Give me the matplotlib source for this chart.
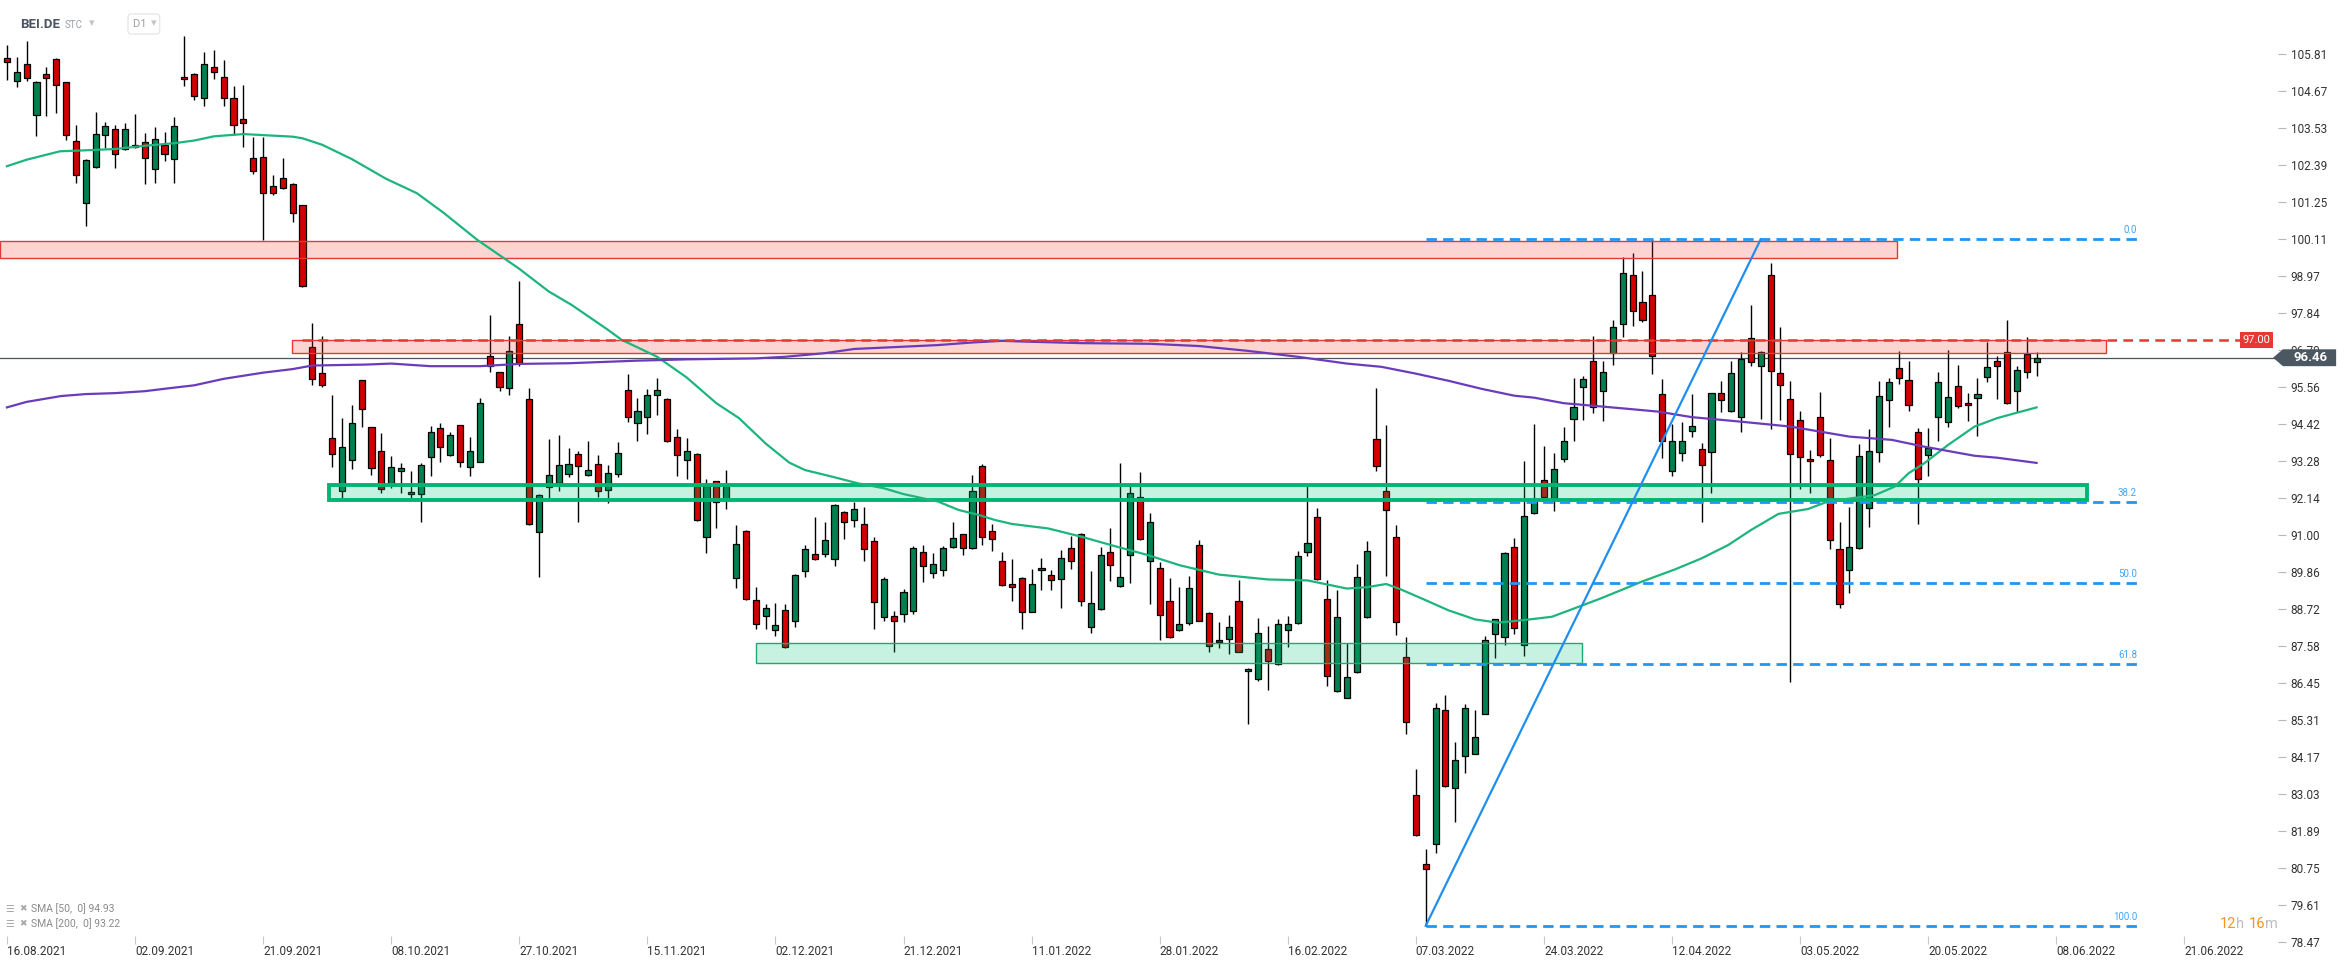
import numpy as np
import matplotlib
matplotlib.use("Agg")
import matplotlib.pyplot as plt
from matplotlib.patches import Rectangle, Polygon

plt.rcParams['font.family'] = ['Roboto', 'DejaVu Sans']
plt.rcParams['lines.scale_dashes'] = False

# daily candles BEI.DE, 16.08.2021 -> 06.06.2022 (bar index 0..206)
opens = [105.69, 104.98, 105.51, 103.93, 105.20, 105.66, 104.94, 103.15, 101.23, 102.34,
         103.32, 103.50, 102.89, 103.01, 103.10, 102.27, 103.02, 102.58, 105.10, 105.20,
         104.47, 105.42, 105.11, 104.47, 103.81, 102.62, 102.64, 101.74, 102.01, 101.81,
         101.16, 96.79, 95.99, 93.99, 92.35, 93.31, 95.76, 94.32, 93.58, 92.57,
         92.97, 92.26, 92.26, 93.39, 94.29, 93.45, 94.38, 93.09, 93.26, 96.50,
         96.01, 95.54, 97.50, 95.18, 91.08, 92.47, 92.59, 92.87, 93.49, 92.84,
         93.18, 92.39, 92.87, 95.46, 94.44, 94.64, 95.30, 95.18, 94.01, 93.30,
         93.49, 90.95, 92.65, 92.08, 89.67, 91.12, 88.99, 88.49, 88.07, 88.68,
         88.34, 89.88, 90.41, 90.41, 90.25, 91.70, 91.45, 91.33, 90.81, 88.46,
         88.50, 88.56, 88.65, 90.47, 89.82, 89.91, 90.62, 91.02, 90.59, 93.12,
         91.12, 90.19, 89.48, 89.67, 88.64, 89.97, 89.78, 89.64, 90.59, 91.03,
         88.16, 88.72, 90.49, 89.43, 90.37, 92.16, 90.20, 89.99, 88.98, 88.07,
         88.30, 90.68, 88.61, 87.76, 87.81, 88.98, 86.81, 86.56, 87.48, 87.03,
         88.07, 88.29, 90.49, 91.54, 89.04, 86.18, 85.99, 86.77, 88.47, 93.97,
         92.37, 90.93, 87.23, 82.98, 80.86, 81.47, 85.60, 83.21, 84.20, 84.26,
         85.50, 87.95, 87.86, 90.63, 87.62, 91.67, 92.68, 92.13, 93.33, 94.56,
         95.55, 96.35, 95.42, 96.60, 97.49, 99.01, 98.17, 98.38, 95.33, 92.97,
         93.52, 94.20, 93.66, 93.55, 95.36, 94.82, 94.63, 97.06, 96.21, 99.01,
         95.98, 95.18, 94.53, 93.34, 94.63, 93.31, 90.56, 89.92, 90.59, 91.82,
         93.55, 95.15, 96.14, 95.77, 94.16, 93.46, 94.63, 94.47, 95.59, 95.07,
         95.21, 95.86, 96.35, 96.65, 95.45, 96.57, 96.32]
highs = [106.08, 105.73, 106.22, 105.00, 105.42, 105.70, 104.96, 103.62, 102.58, 104.03,
         103.71, 103.62, 103.68, 103.98, 103.37, 103.57, 103.40, 103.88, 106.37, 105.24,
         105.88, 105.95, 105.64, 104.83, 104.87, 103.26, 103.26, 102.09, 102.62, 101.85,
         101.16, 97.54, 97.13, 95.32, 94.61, 94.99, 95.76, 94.32, 94.14, 93.42,
         93.23, 92.98, 93.23, 94.35, 94.44, 94.16, 94.38, 94.02, 95.23, 97.79,
         96.01, 97.13, 98.83, 95.53, 92.25, 93.95, 94.08, 93.67, 93.59, 93.90,
         93.47, 93.16, 93.86, 95.95, 95.22, 95.50, 95.84, 95.22, 94.26, 93.98,
         93.51, 92.72, 92.67, 92.99, 91.30, 91.14, 89.39, 88.87, 88.91, 88.87,
         89.80, 90.69, 91.56, 91.40, 91.95, 91.73, 92.02, 91.85, 90.93, 89.70,
         88.65, 89.34, 90.65, 90.68, 90.44, 90.65, 91.39, 91.04, 92.85, 93.18,
         91.33, 90.47, 90.25, 89.70, 89.96, 90.28, 89.93, 90.55, 90.97, 91.05,
         89.88, 90.62, 91.23, 93.21, 92.50, 92.95, 91.68, 90.17, 89.67, 89.39,
         89.74, 90.86, 88.63, 88.31, 88.54, 89.60, 86.91, 88.43, 88.19, 88.40,
         88.51, 90.52, 92.57, 91.82, 89.60, 89.30, 87.66, 90.10, 90.80, 95.54,
         94.38, 91.30, 87.86, 83.80, 81.33, 85.82, 86.07, 84.61, 85.78, 85.60,
         87.90, 88.42, 90.49, 90.92, 93.28, 94.42, 93.74, 93.52, 94.32, 95.83,
         95.90, 97.13, 96.35, 97.62, 99.55, 99.68, 99.13, 100.11, 95.79, 94.42,
         94.48, 95.34, 93.82, 95.38, 95.74, 96.35, 96.63, 98.09, 96.67, 99.39,
         97.42, 95.75, 94.82, 93.62, 95.40, 93.98, 91.39, 91.85, 93.80, 94.26,
         95.75, 95.83, 96.67, 96.36, 94.29, 94.29, 96.01, 96.70, 96.24, 95.36,
         95.83, 96.96, 96.50, 97.62, 96.21, 97.09, 96.63]
lows = [105.03, 104.79, 105.00, 103.30, 103.90, 103.99, 103.18, 101.83, 100.51, 102.30,
        102.91, 102.30, 102.85, 102.91, 101.80, 101.83, 102.51, 101.83, 104.83, 104.39,
        104.21, 105.05, 104.23, 103.33, 102.94, 102.12, 100.10, 101.48, 101.67, 100.63,
        98.63, 95.62, 95.57, 93.09, 92.13, 93.03, 94.33, 92.86, 92.29, 92.46,
        92.29, 92.13, 91.41, 92.81, 93.25, 93.42, 93.09, 92.81, 93.26, 96.03,
        95.45, 95.30, 96.19, 91.30, 89.70, 92.12, 92.37, 92.80, 91.41, 92.82,
        92.18, 91.98, 92.80, 94.49, 93.91, 94.12, 94.71, 93.86, 92.83, 92.72,
        91.43, 90.44, 91.20, 91.79, 89.36, 89.00, 88.11, 88.09, 87.90, 87.52,
        88.18, 89.70, 90.23, 90.33, 90.03, 90.89, 91.26, 90.21, 88.09, 88.36,
        87.41, 88.33, 88.56, 89.54, 89.67, 89.73, 90.60, 90.38, 90.57, 90.68,
        90.50, 89.43, 88.96, 88.09, 88.62, 89.32, 89.30, 88.75, 89.96, 88.80,
        87.97, 88.70, 89.57, 89.41, 89.53, 90.86, 88.87, 87.76, 87.84, 88.05,
        88.23, 88.34, 87.38, 87.51, 87.34, 87.38, 85.17, 86.49, 86.21, 87.01,
        87.55, 88.27, 90.35, 89.62, 86.35, 86.16, 85.97, 86.75, 88.45, 92.97,
        89.74, 87.93, 84.86, 81.73, 78.96, 81.19, 83.25, 82.15, 83.66, 84.24,
        85.48, 87.20, 87.62, 87.95, 87.27, 91.65, 92.16, 91.75, 93.26, 93.88,
        94.54, 94.77, 94.51, 96.24, 97.09, 97.44, 97.55, 95.95, 93.36, 92.82,
        93.29, 94.03, 91.39, 92.30, 94.80, 94.80, 94.16, 96.19, 94.57, 94.27,
        94.54, 86.48, 92.42, 92.30, 93.39, 90.56, 88.74, 89.20, 90.56, 91.24,
        93.24, 94.32, 95.64, 94.83, 91.33, 92.83, 93.91, 94.32, 94.90, 94.52,
        94.06, 95.70, 95.18, 95.04, 94.80, 95.83, 95.91]
closes = [105.57, 105.25, 105.08, 104.94, 105.08, 104.86, 103.32, 102.08, 102.55, 103.35,
          103.59, 102.73, 103.50, 102.96, 102.61, 103.20, 102.73, 103.59, 105.05, 104.53,
          105.51, 105.26, 104.47, 103.62, 103.68, 102.20, 101.53, 101.52, 101.69, 100.92,
          98.68, 95.81, 95.61, 93.50, 93.70, 94.44, 94.88, 93.06, 92.42, 93.08,
          93.06, 92.31, 93.17, 94.16, 93.72, 94.08, 93.26, 93.58, 95.06, 96.22,
          95.56, 96.66, 96.29, 91.33, 92.22, 92.84, 93.15, 93.18, 93.14, 92.99,
          92.36, 92.90, 93.52, 94.64, 94.81, 95.30, 95.46, 93.88, 93.46, 93.58,
          91.45, 92.51, 92.01, 92.51, 90.71, 89.03, 88.25, 88.74, 88.22, 87.54,
          89.77, 90.56, 90.25, 90.84, 91.92, 91.39, 91.79, 90.56, 88.95, 89.64,
          88.34, 89.24, 90.59, 90.04, 90.10, 90.59, 90.90, 90.59, 92.35, 90.93,
          90.87, 89.45, 89.39, 88.62, 89.50, 89.91, 89.62, 90.28, 90.20, 88.98,
          88.90, 90.37, 90.07, 89.70, 92.29, 90.88, 91.41, 88.54, 87.86, 88.26,
          89.36, 88.36, 87.58, 87.69, 88.16, 87.40, 86.84, 87.97, 87.12, 88.26,
          88.26, 90.35, 90.76, 89.64, 86.66, 88.46, 86.62, 89.70, 90.52, 93.14,
          91.77, 88.31, 85.25, 81.75, 80.71, 85.68, 83.27, 84.06, 85.68, 84.79,
          87.76, 88.40, 90.45, 88.12, 91.57, 92.03, 92.18, 93.02, 93.88, 94.95,
          95.80, 94.93, 96.01, 97.40, 99.06, 97.90, 97.62, 96.51, 93.90, 93.90,
          93.91, 94.37, 93.16, 95.36, 95.16, 95.98, 96.42, 96.32, 96.65, 96.06,
          95.62, 93.48, 93.39, 93.28, 93.46, 90.83, 88.87, 90.62, 93.43, 93.59,
          95.28, 95.70, 95.83, 94.99, 92.72, 93.67, 95.70, 95.24, 94.97, 94.99,
          95.34, 96.17, 96.19, 95.06, 96.08, 96.01, 96.46]

date_ticks = [0, 13, 26, 39, 52, 65, 78, 91, 104, 117, 130, 143, 156, 169, 182, 195, 208, 221]
date_labels = ["16.08.2021", "02.09.2021", "21.09.2021", "08.10.2021", "27.10.2021",
               "15.11.2021", "02.12.2021", "21.12.2021", "11.01.2022", "28.01.2022",
               "16.02.2022", "07.03.2022", "24.03.2022", "12.04.2022", "03.05.2022",
               "20.05.2022", "08.06.2022", "21.06.2022"]
price_ticks = [105.81, 104.67, 103.53, 102.39, 101.25, 100.11, 98.97, 97.84, 96.70, 95.56,
               94.42, 93.28, 92.14, 91.00, 89.86, 88.72, 87.58, 86.45, 85.31, 84.17,
               83.03, 81.89, 80.75, 79.61, 78.47]

# moving averages (bar index, value)
sma50_x = [0, 2, 5.4, 8, 11, 14, 17, 19, 21, 24, 29, 30, 32, 35, 38.5, 41.6, 44.3, 47.7, 52,
           55, 57.3, 61, 62.4, 66, 69, 72, 74.3, 77, 79.4, 81, 83.7, 86.4, 89, 91, 94.5,
           96.6, 98.6, 100.3, 102, 105.7, 109, 112.4, 115.8, 119, 123, 128, 132, 136, 138,
           140, 141.5, 144, 146.3, 149, 151.3, 154, 156.8, 159.8, 161.8, 163.9, 165.9,
           169.3, 172, 174.7, 177, 179.8, 182.8, 184.8, 189.6, 191.6, 193, 194.6, 197,
           199.7, 202, 203.8, 206]
sma50_y = [102.36, 102.56, 102.82, 102.85, 102.89, 102.99, 103.07, 103.15, 103.28, 103.35,
           103.27, 103.22, 103.02, 102.58, 101.97, 101.53, 100.93, 100.10, 99.20,
           98.50, 98.09, 97.32, 97.01, 96.49, 95.85, 95.06, 94.60, 93.82, 93.23, 93.00,
           92.80, 92.59, 92.44, 92.26, 92.03, 91.77, 91.62, 91.46, 91.34, 91.20, 90.95,
           90.66, 90.38, 90.07, 89.78, 89.63, 89.60, 89.35, 89.39, 89.49, 89.32, 88.99,
           88.68, 88.40, 88.30, 88.38, 88.48, 88.82, 89.05, 89.31, 89.56, 89.94, 90.28,
           90.69, 91.15, 91.65, 91.80, 92.03, 92.23, 92.49, 92.90, 93.21, 93.77, 94.34,
           94.60, 94.75, 94.93]
sma200_x = [0, 2, 5.5, 8, 11, 14, 17, 19, 22, 26, 29, 31, 36.5, 39, 43, 48, 52, 57, 64, 69,
            76, 79, 83, 86, 91, 94.5, 98, 101, 103, 109, 116, 121, 126, 131, 136, 139.5,
            143, 146.3, 149.7, 153, 155, 158, 164, 167.6, 171, 176, 181, 184.5, 187,
            191.3, 194.6, 199.7, 202, 206]
sma200_y = [94.93, 95.10, 95.28, 95.34, 95.37, 95.43, 95.54, 95.61, 95.81, 96.00, 96.11,
            96.22, 96.25, 96.28, 96.20, 96.20, 96.27, 96.29, 96.37, 96.41, 96.44, 96.49,
            96.60, 96.73, 96.80, 96.85, 96.93, 96.98, 96.96, 96.91, 96.89, 96.82, 96.67,
            96.49, 96.28, 96.18, 95.97, 95.75, 95.50, 95.29, 95.23, 95.06, 94.90, 94.80,
            94.63, 94.49, 94.34, 94.16, 94.03, 93.93, 93.72, 93.44, 93.38, 93.22]

# drawn zones: (start bar, end bar, low, high)
red_zones = [(-0.7, 191.8, 99.52, 100.06), (28.9, 213.0, 96.60, 97.00)]
green_zone_main = (32.7, 211.1, 92.08, 92.54)
green_zone_low = (76.0, 159.9, 87.05, 87.66)

fib_start, fib_end = 144, 216.3
fib_high, fib_low = 100.11, 78.96
fib_levels = [0.0, 38.2, 50.0, 61.8, 100.0]
trend_x = [144, 178]
trend_y = [78.96, 100.11]
alert_start, alert_end = 29.9, 226.9
last_price = 96.46
alert_price = 97.00

W, H = 2346, 968
def px(x, y):
    return x / W, 1 - y / H

fig = plt.figure(figsize=(W / 100, H / 100), dpi=100)
fig.patch.set_facecolor('white')
ax = fig.add_axes([0, 24 / H, 2278 / W, 944 / H])
ax.set_xlim(-0.70, 230.5)
ax.set_ylim(78.40, 107.48)
for s in ax.spines.values():
    s.set_visible(False)

o = np.array(opens); h = np.array(highs); l = np.array(lows); c = np.array(closes)
idx = np.arange(len(o))
up = c >= o
colors = np.where(up, '#03804f', '#d40000')

ax.axhline(last_price, color='#4a5560', lw=0.9, zorder=1)
ax.vlines(idx, l, h, color='black', lw=1.0, zorder=2)
ax.bar(idx, np.maximum(np.abs(c - o), 0.06), bottom=np.minimum(o, c), width=0.62,
       color=colors, edgecolor='black', linewidth=0.9, zorder=3)

for x0, x1, lo, hi in red_zones:
    ax.add_patch(Rectangle((x0, lo), x1 - x0, hi - lo, facecolor=(0.96, 0.26, 0.21, 0.22),
                           edgecolor='#e53935', lw=1.0, zorder=4))
x0, x1, lo, hi = green_zone_main
ax.add_patch(Rectangle((x0, lo), x1 - x0, hi - lo, facecolor=(0.0, 0.77, 0.48, 0.22),
                       edgecolor='#00b574', lw=2.8, zorder=4))
x0, x1, lo, hi = green_zone_low
ax.add_patch(Rectangle((x0, lo), x1 - x0, hi - lo, facecolor=(0.0, 0.77, 0.48, 0.22),
                       edgecolor='#1fa872', lw=1.0, zorder=4))

ax.plot(sma50_x, sma50_y, color='#1db57d', lw=1.6, zorder=5)
ax.plot(sma200_x, sma200_y, color='#6a3cbc', lw=1.6, zorder=5)

ax.plot([alert_start, alert_end], [alert_price, alert_price], color='#e53935', lw=1.8,
        dashes=(7, 4.5), zorder=6)

for lvl in fib_levels:
    y = fib_high - lvl / 100 * (fib_high - fib_low)
    ax.plot([fib_start, fib_end], [y, y], color='#2196f3', lw=2.0, dashes=(7.5, 4.5), zorder=6)
    ax.text(fib_end - 0.1, y + 0.12, f"{lvl:.1f}", ha='right', va='bottom', fontsize=7,
            color='#42a5f5', zorder=7)
ax.plot(trend_x, trend_y, color='#1e8ff0', lw=1.6, zorder=6)

# axes ticks
ax.yaxis.tick_right()
ax.set_yticks(price_ticks)
ax.set_yticklabels([f"{v:.2f}" for v in price_ticks])
ax.tick_params(axis='y', length=6, width=0.8, color='#b8b8b8', pad=3, labelsize=8.5,
               labelcolor='#333333')
ax.set_xticks(date_ticks)
ax.set_xticklabels(date_labels)
ax.tick_params(axis='x', direction='in', length=6, width=0.8, color='#c8c8c8', pad=1,
               labelsize=8.5, labelcolor='#333333')
for lab in ax.get_xticklabels():
    lab.set_ha('left')

# price tags
ax.text(alert_end, alert_price, "97.00", ha='left', va='center', fontsize=8, color='white',
        zorder=10, clip_on=False,
        bbox=dict(boxstyle='square,pad=0.25', fc='#e53935', ec='none'))
tag = Polygon([(230.0, last_price), (231.0, last_price + 0.26), (236.4, last_price + 0.26),
               (236.4, last_price - 0.26), (231.0, last_price - 0.26)],
              closed=True, facecolor='#4b5761', edgecolor='none', zorder=10, clip_on=False)
ax.add_patch(tag)
ax.text(233.8, last_price, f"{last_price:.2f}", ha='center', va='center', fontsize=9.5,
        fontweight='bold', color='white', zorder=11, clip_on=False)

# header
fig.text(*px(20, 24), "BEI.DE", fontsize=9.5, fontweight='bold', color='#4b5563', va='center')
fig.text(*px(65, 25), "STC", fontsize=7, color='#9aa0a6', va='center')
fig.text(*px(89, 23), "▾", fontsize=8, color='#c4c4c4', va='center', family='DejaVu Sans')
fig.text(*px(133, 24), "D1   ", fontsize=8, color='#9aa0a6', va='center',
         bbox=dict(boxstyle='round,pad=0.45,rounding_size=0.3', fc='white', ec='#e2e2e2', lw=0.8))
fig.text(*px(151, 23), "▾", fontsize=8, color='#c4c4c4', va='center', family='DejaVu Sans')

# indicator legend
for yy, txt in [(909, "SMA [50,  0] 94.93"), (924, "SMA [200,  0] 93.22")]:
    fig.text(*px(5, yy), "☰", fontsize=7, color='#a8a8a8', va='center', family='DejaVu Sans')
    fig.text(*px(19, yy), "✖", fontsize=6.5, color='#a8a8a8', va='center', family='DejaVu Sans')
    fig.text(*px(31, yy), txt, fontsize=7.5, color='#8a8a8a', va='center')

# countdown
for xx, txt, col in [(2220, "12", '#f7941d'), (2236, "h", '#bdbdbd'),
                     (2249, "16", '#f7941d'), (2265, "m", '#bdbdbd')]:
    fig.text(*px(xx, 924), txt, fontsize=10.5, color=col, va='center')

fig.savefig("out.png", dpi=100)
